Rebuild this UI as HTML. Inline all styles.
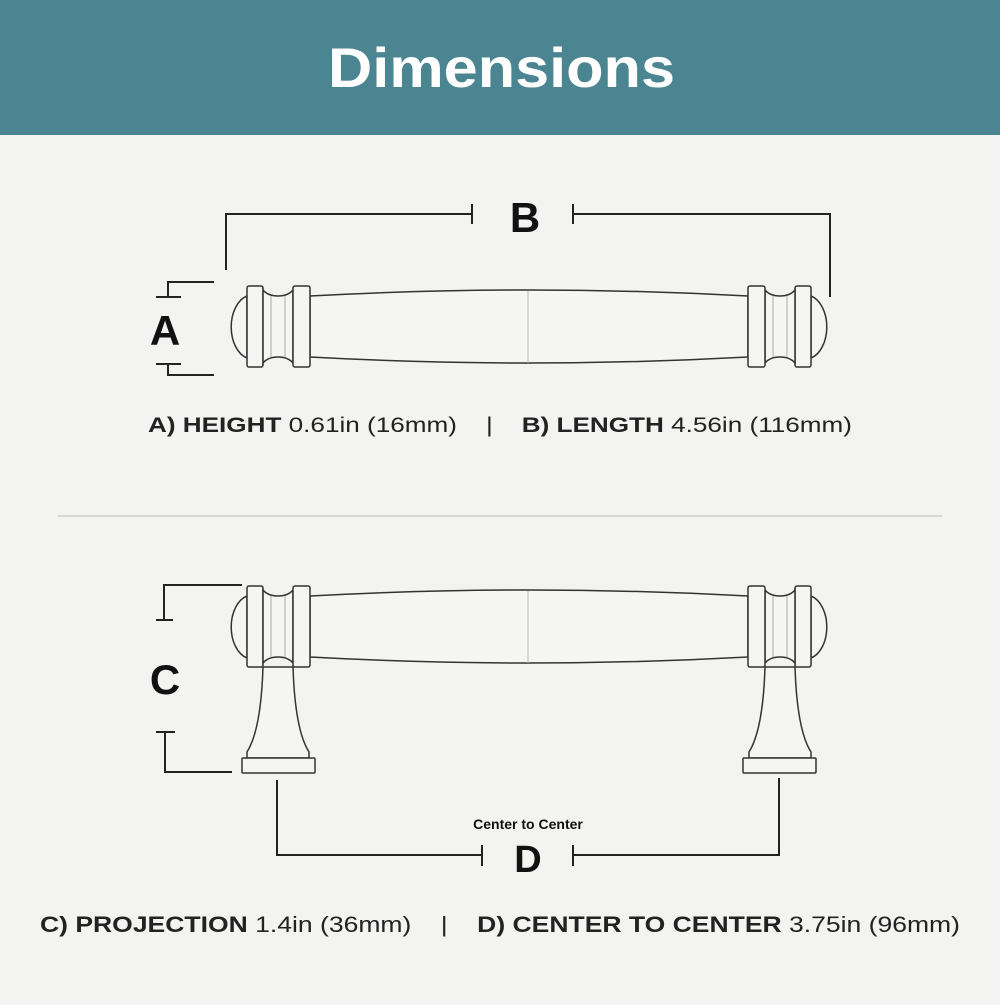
<!DOCTYPE html>
<html><head><meta charset="utf-8"><style>
html,body{margin:0;padding:0;background:#f3f3f2;}
body{width:1000px;height:1000px;position:relative;overflow:hidden;font-family:"Liberation Sans",sans-serif;}
</style></head><body>
<svg width="1000" height="1000" viewBox="0 0 1000 1000" xmlns="http://www.w3.org/2000/svg">
<defs>
<g id="endA" fill="#f5f5f4" stroke="#333" stroke-width="1.5">
  <path d="M247 296 A21 32 0 0 0 247 358 Z"/>
  <rect x="247" y="286" width="16" height="81" rx="2"/>
  <path d="M263 290 Q268 296 278 296 Q288 296 293 290 L293 363 Q288 357 278 357 Q268 357 263 363 Z"/>
  <line x1="271" y1="296" x2="271" y2="357" stroke="#aaa" stroke-width="1"/>
  <line x1="285" y1="296" x2="285" y2="357" stroke="#aaa" stroke-width="1"/>
  <rect x="293" y="286" width="17" height="81" rx="2"/>
</g>
<g id="handle">
  <path d="M310 296 Q528 284 748 296 L748 357 Q528 369 310 357 Z" fill="#f5f5f4" stroke="#333" stroke-width="1.5"/>
  <line x1="528" y1="291" x2="528" y2="363" stroke="#bbb" stroke-width="1"/>
  <use href="#endA"/>
  <use href="#endA" transform="translate(1058 0) scale(-1 1)"/>
</g>
<g id="post" fill="#f5f5f4" stroke="#333" stroke-width="1.5">
  <path d="M263 667 Q261 730 247 752 L247 758 L309 758 L309 752 Q295 730 293 667 Z"/>
  <rect x="242" y="758" width="73" height="15" rx="1"/>
</g>
</defs>
<rect x="0" y="0" width="1000" height="135" fill="#4b8591"/>
<text x="328" y="87" font-size="56" font-weight="bold" fill="#fff" textLength="347" lengthAdjust="spacingAndGlyphs">Dimensions</text>

<g stroke="#222" stroke-width="2" fill="none">
  <path d="M226 270 V214 H472 M472 204 V224"/>
  <path d="M830 297 V214 H573 M573 204 V224"/>
  <path d="M214 282 H168 V297 M156 297 H181"/>
  <path d="M214 375 H168 V364 M156 364 H181"/>
</g>
<text x="525" y="232" text-anchor="middle" font-size="42" font-weight="bold" fill="#111">B</text>
<text x="165" y="345" text-anchor="middle" font-size="42" font-weight="bold" fill="#111">A</text>

<use href="#handle"/>

<text x="148" y="432" font-size="21" fill="#222" textLength="704" lengthAdjust="spacingAndGlyphs" xml:space="preserve"><tspan font-weight="bold">A) HEIGHT</tspan> 0.61in (16mm)    |    <tspan font-weight="bold">B) LENGTH</tspan> 4.56in (116mm)</text>

<line x1="58" y1="516" x2="942" y2="516" stroke="#bbb" stroke-width="1"/>

<use href="#post"/>
<use href="#post" transform="translate(1058 0) scale(-1 1)"/>
<use href="#handle" transform="translate(0 300)"/>

<g stroke="#222" stroke-width="2" fill="none">
  <path d="M242 585 H164 V620 M156 620 H173"/>
  <path d="M232 772 H165 V732 M156 732 H175"/>
  <path d="M277 780 V855 H482 M482 845 V866"/>
  <path d="M779 778 V855 H573 M573 845 V866"/>
</g>
<text x="165" y="694" text-anchor="middle" font-size="42" font-weight="bold" fill="#111">C</text>
<text x="528" y="829" text-anchor="middle" font-size="14" font-weight="bold" fill="#111">Center to Center</text>
<text x="528" y="872" text-anchor="middle" font-size="38" font-weight="bold" fill="#111">D</text>

<text x="40" y="932" font-size="22" fill="#222" textLength="920" lengthAdjust="spacingAndGlyphs" xml:space="preserve"><tspan font-weight="bold">C) PROJECTION</tspan> 1.4in (36mm)    |    <tspan font-weight="bold">D) CENTER TO CENTER</tspan> 3.75in (96mm)</text>
</svg>
</body></html>
